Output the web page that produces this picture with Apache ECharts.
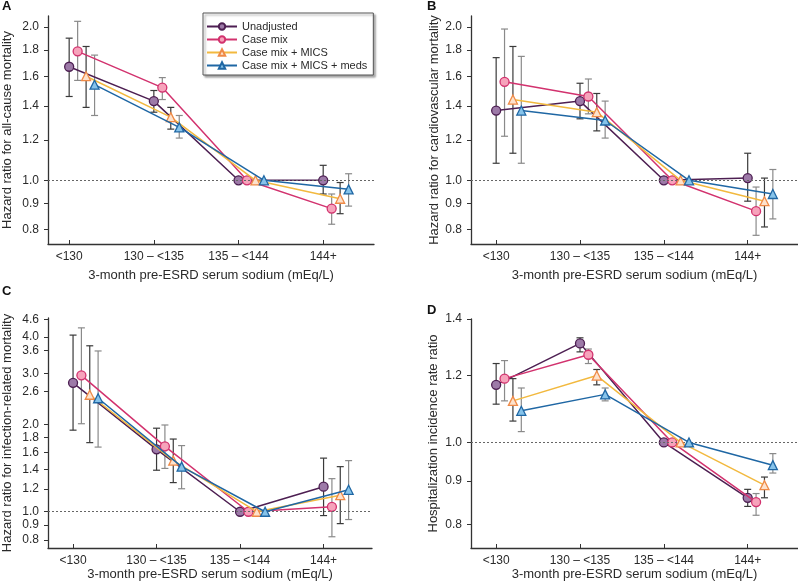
<!DOCTYPE html>
<html>
<head>
<meta charset="utf-8">
<script src="https://cdn.jsdelivr.net/npm/echarts@6/dist/echarts.min.js"></script>
<style>
html,body{margin:0;padding:0;background:#fff;}
#chart{width:798px;height:583px;}
</style>
</head>
<body>
<div id="chart"></div>
<script>
const categories = ['<130', '130 \u2013 <135', '135 \u2013 <144', '144+'];
const seriesNames = ['Unadjusted', 'Case mix', 'Case mix + MICS', 'Case mix + MICS + meds'];

// Panel A: all-cause mortality (rows = series, cols = categories)
const allCauseHR = [[1.67,1.43,1.00,1.00],[1.79,1.52,1.00,0.88],[1.60,1.33,1.00,0.92],[1.54,1.27,1.00,0.96]];
const allCauseLo = [[1.46,1.36,null,0.94],[1.57,1.44,null,0.82],[1.39,1.26,null,0.86],[1.34,1.21,null,0.89]];
const allCauseHi = [[1.90,1.50,null,1.07],[2.05,1.59,null,0.94],[1.83,1.39,null,0.99],[1.76,1.34,null,1.03]];

// Panel B: cardiovascular mortality
const cvHR = [[1.37,1.43,1.00,1.01],[1.56,1.46,1.00,0.87],[1.44,1.36,1.00,0.91],[1.37,1.31,1.00,0.94]];
const cvLo = [[1.08,1.32,null,0.91],[1.22,1.35,null,0.78],[1.13,1.25,null,0.81],[1.08,1.21,null,0.84]];
const cvHi = [[1.74,1.55,null,1.13],[1.98,1.58,null,0.97],[1.83,1.48,null,1.01],[1.75,1.43,null,1.05]];

// Panel C: infection-related mortality
const infHR = [[2.78,1.64,1.00,1.22],[2.95,1.68,1.00,1.04],[2.53,1.50,1.00,1.14],[2.46,1.43,1.00,1.19]];
const infLo = [[1.91,1.39,null,0.97],[2.01,1.41,null,0.82],[1.73,1.26,null,0.91],[1.67,1.20,null,0.94]];
const infHi = [[4.06,1.94,null,1.53],[4.30,1.99,null,1.30],[3.73,1.78,null,1.43],[3.58,1.69,null,1.50]];

// Panel D: hospitalization incidence rate ratio
const hospHR = [[1.17,1.31,1.00,0.86],[1.19,1.27,1.00,0.85],[1.12,1.20,1.00,0.89],[1.09,1.14,1.00,0.94]];
const hospLo = [[1.11,1.28,null,0.84],[1.12,1.24,null,0.82],[1.06,1.17,null,0.86],[1.03,1.12,null,0.92]];
const hospHi = [[1.24,1.33,null,0.88],[1.25,1.29,null,0.87],[1.19,1.22,null,0.91],[1.16,1.16,null,0.97]];

// Tick labels
const ticksAB = [0.8, 0.9, 1.0, 1.2, 1.4, 1.6, 1.8, 2.0];
const ticksC = [0.8, 0.9, 1.0, 1.2, 1.4, 1.6, 1.8, 2.0, 2.6, 3.0, 3.6, 4.0, 4.6];
const ticksD = [0.8, 0.9, 1.0, 1.2, 1.4];

const FONT = '"Liberation Sans", Arial, Helvetica, sans-serif';
const TXT = '#2a2a2a';
const lineColors = ['#4d1f52', '#d2326e', '#f2b93f', '#1f67a4'];
const fillColors = ['#9d7aa8', '#f6a3bb', '#fde2cc', '#86c3ea'];
const borderColors = ['#4d1f52', '#d2326e', '#ef8a47', '#1f67a4'];
const symbols = ['circle', 'circle', 'triangle', 'triangle'];
const ebColors = ['#3a3a3a', '#8a8a8a', '#3a3a3a', '#8a8a8a'];
const offsets = [0, 0.1, 0.2, 0.3];

const panels = [
  {letter:'A', lx:2, ly:0, hr:allCauseHR, lo:allCauseLo, hi:allCauseHi, ticks:ticksAB, ymax:2.1,
   name:'Hazard ratio for all-cause mortality', grid:{left:47, top:16, width:327, height:228}, xmin:-0.25, xmax:3.6, gap:34, xgap:25},
  {letter:'B', lx:427, ly:0, hr:cvHR, lo:cvLo, hi:cvHi, ticks:ticksAB, ymax:2.1,
   name:'Hazard ratio for cardiovascular mortality', grid:{left:471, top:16, width:327, height:228}, xmin:-0.3, xmax:3.6, gap:30, xgap:25},
  {letter:'C', lx:2, ly:285, hr:infHR, lo:infLo, hi:infHi, ticks:ticksC, ymax:4.65,
   name:'Hazard ratio for infection-related mortality', grid:{left:47, top:318, width:325, height:230}, xmin:-0.3, xmax:3.58, gap:34, xgap:20},
  {letter:'D', lx:427, ly:304, hr:hospHR, lo:hospLo, hi:hospHi, ticks:ticksD, ymax:1.4,
   name:'Hospitalization incidence rate ratio', grid:{left:471, top:319, width:327, height:229}, xmin:-0.3, xmax:3.6, gap:31, xgap:20}
];

const grids = [], xAxes = [], yAxes = [], series = [], graphics = [];
panels.forEach((p, pi) => {
  grids.push(Object.assign({containLabel:false}, p.grid));
  xAxes.push({
    type:'value', gridIndex:pi, min:p.xmin, max:p.xmax,
    axisLine:{show:true, onZero:false, lineStyle:{color:'#333', width:1.3}},
    axisTick:{show:true, inside:true, length:4, customValues:[0,1,2,3], lineStyle:{color:'#333'}},
    axisLabel:{customValues:[0,1,2,3], formatter:v => categories[Math.round(v)], fontSize:12, color:TXT, fontFamily:FONT, margin:7},
    splitLine:{show:false},
    name:'3-month pre-ESRD serum sodium (mEq/L)', nameLocation:'middle', nameGap:p.xgap,
    nameTextStyle:{fontSize:13, color:TXT, fontFamily:FONT}
  });
  const lt = p.ticks.map(v => Math.log(v));
  yAxes.push({
    type:'value', gridIndex:pi, min:Math.log(0.75), max:Math.log(p.ymax),
    axisLine:{show:true, onZero:false, lineStyle:{color:'#333', width:1.3}},
    axisTick:{show:true, inside:false, length:4, customValues:lt, lineStyle:{color:'#333'}},
    axisLabel:{customValues:lt, formatter:v => Math.exp(v).toFixed(1), fontSize:12, color:TXT, fontFamily:FONT, margin:9},
    splitLine:{show:false},
    name:p.name, nameLocation:'middle', nameGap:p.gap,
    nameTextStyle:{fontSize:13, color:TXT, fontFamily:FONT}
  });
  graphics.push({type:'text', left:p.lx, top:p.ly, style:{text:p.letter, font:'bold 13px ' + FONT, fill:'#111'}});

  for (let s = 0; s < 4; s++) {
    const ebData = [];
    for (let c = 0; c < 4; c++) {
      if (p.lo[s][c] != null) ebData.push([c + offsets[s], Math.log(p.lo[s][c]), Math.log(p.hi[s][c])]);
    }
    const col = ebColors[s];
    series.push({
      type:'custom', name:'eb' + pi + '_' + s, xAxisIndex:pi, yAxisIndex:pi, z:1, silent:true,
      encode:{x:0, y:[1,2]}, data:ebData,
      renderItem:(params, api) => {
        const x = api.value(0);
        const a = api.coord([x, api.value(1)]);
        const b = api.coord([x, api.value(2)]);
        const w = 3.5;
        const st = {stroke:col, lineWidth:1.2};
        return {type:'group', children:[
          {type:'line', shape:{x1:a[0], y1:a[1], x2:b[0], y2:b[1]}, style:st},
          {type:'line', shape:{x1:a[0]-w, y1:a[1], x2:a[0]+w, y2:a[1]}, style:st},
          {type:'line', shape:{x1:b[0]-w, y1:b[1], x2:b[0]+w, y2:b[1]}, style:st}
        ]};
      }
    });
  }
  for (let s = 0; s < 4; s++) {
    const d = p.hr[s].map((v, c) => [c + offsets[s], Math.log(v)]);
    const ser = {
      type:'line', name:seriesNames[s], xAxisIndex:pi, yAxisIndex:pi, z:3 + s,
      data:d, symbol:symbols[s], symbolSize:9,
      showAllSymbol:true,
      lineStyle:{color:lineColors[s], width:1.5},
      itemStyle:{color:fillColors[s], borderColor:borderColors[s], borderWidth:1.3},
      emphasis:{disabled:true}
    };
    if (s === 0) {
      ser.markLine = {
        silent:true, symbol:['none','none'], label:{show:false},
        lineStyle:{color:'#666', type:[2,2], width:1},
        data:[{yAxis:0}]
      };
    }
    series.push(ser);
  }
});

const chart = echarts.init(document.getElementById('chart'), null, {renderer:'canvas'});
chart.setOption({
  animation:false,
  backgroundColor:'#fff',
  textStyle:{fontFamily:FONT},
  grid:grids, xAxis:xAxes, yAxis:yAxes, series:series,
  graphic:graphics,
  legend:{
    data:seriesNames, orient:'vertical', left:203, top:13,
    itemWidth:30, itemHeight:8, itemGap:2, selectedMode:false,
    padding:[8,6,4,3],
    textStyle:{fontSize:11, color:TXT, fontFamily:FONT, lineHeight:9},
    backgroundColor:'#fff', borderColor:'#555', borderWidth:1,
    shadowColor:'rgba(0,0,0,0.35)', shadowBlur:2, shadowOffsetX:2, shadowOffsetY:2
  }
});
</script>
</body>
</html>
